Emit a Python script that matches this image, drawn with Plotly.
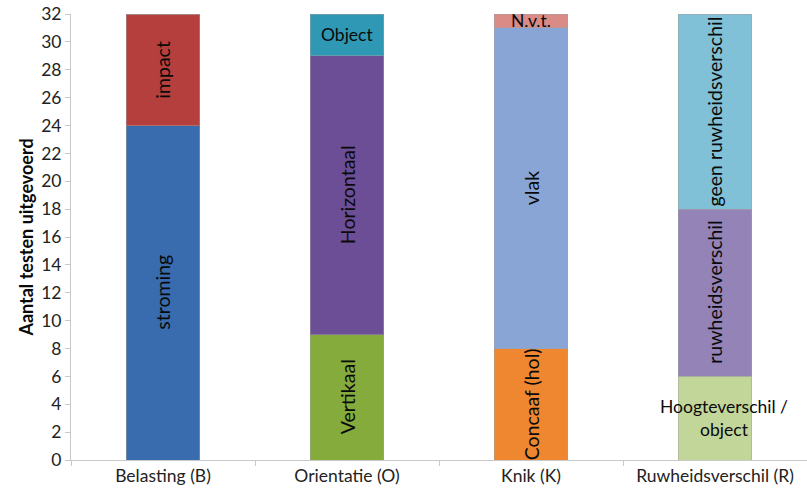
import plotly.graph_objects as go

categories = ["Belasting (B)", "Orientatie (O)", "Knik (K)", "Ruwheidsverschil (R)"]
level1_values = [24, 9, 8, 6]
level2_values = [8, 20, 23, 12]
level3_values = [0, 3, 1, 14]
level1_labels = ["stroming", "Vertikaal", "Concaaf (hol)", "Hoogteverschil /<br>object"]
level2_labels = ["impact", "Horizontaal", "vlak", "ruwheidsverschil"]
level3_labels = ["", "Object", "N.v.t.", "geen ruwheidsverschil"]
level1_colors = ["#386cae", "#85ab3c", "#ef8630", "#c2d69a"]
level2_colors = ["#b53f3c", "#6c4e96", "#89a5d6", "#9483b7"]
level3_colors = ["#ffffff", "#2f98b4", "#db8b86", "#80c1d7"]
level1_angles = [-90, -90, -90, 0]
level2_angles = [-90, -90, -90, -90]
level3_angles = [0, 0, 0, -90]

FONT = "Lato, 'Open Sans', sans-serif"

fig = go.Figure()
levels = [
    (level1_values, level1_colors),
    (level2_values, level2_colors),
    (level3_values, level3_colors),
]
for vals, cols in levels:
    fig.add_trace(go.Bar(
        x=categories, y=vals,
        marker=dict(color=cols, line=dict(color="rgba(160,160,160,0.5)", width=1)),
        width=0.4, hoverinfo="skip", showlegend=False,
    ))

annotations = []
base = [0, 0, 0, 0]
for vals, labels, angles in [
    (level1_values, level1_labels, level1_angles),
    (level2_values, level2_labels, level2_angles),
    (level3_values, level3_labels, level3_angles),
]:
    for i, c in enumerate(categories):
        if vals[i] > 0 and labels[i]:
            vertical = angles[i] != 0
            annotations.append(dict(
                x=c, y=base[i] + vals[i] / 2, xref="x", yref="y",
                text=labels[i], showarrow=False, textangle=angles[i],
                xshift=0 if vertical or "<br>" not in labels[i] else 9,
                font=dict(family=FONT, size=19.5 if vertical else 17.5, color="#0a0a0a"),
            ))
        base[i] += vals[i]

fig.update_layout(
    barmode="stack",
    width=807, height=497,
    margin=dict(l=71, r=0, t=14, b=37),
    paper_bgcolor="white", plot_bgcolor="white",
    font=dict(family=FONT, size=17.5, color="#222222"),
    annotations=annotations,
    xaxis=dict(
        range=[-0.5, 3.5], showline=True, linecolor="#c8c8c8", linewidth=1,
        ticks="outside", tickson="boundaries", ticklen=5, tickcolor="#c8c8c8",
        showgrid=False, tickfont=dict(size=17.5, color="#222222"),
    ),
    yaxis=dict(
        range=[0, 32], dtick=2, showline=True, linecolor="#c8c8c8", linewidth=1,
        ticks="outside", ticklen=5, tickcolor="#c8c8c8", showgrid=False,
        zeroline=False, tickfont=dict(size=17.5, color="#222222"),
        title=dict(text="<b>Aantal testen uitgevoerd</b>", font=dict(size=18, color="#0a0a0a"), standoff=2),
    ),
)

fig.write_html("out.html")
